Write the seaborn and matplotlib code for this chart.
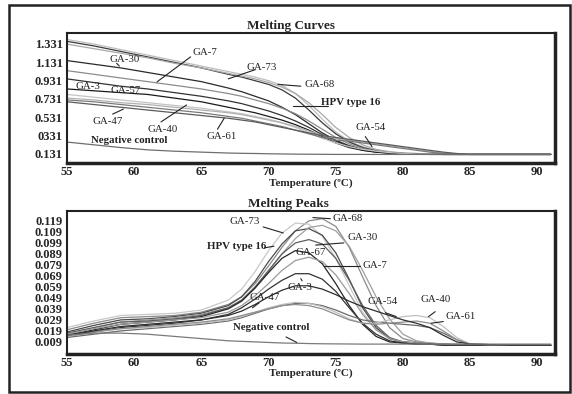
import numpy as np
import pandas as pd
import matplotlib
matplotlib.use("Agg")
import matplotlib.pyplot as plt
import seaborn as sns
from matplotlib.patches import Rectangle

# temperature grid shared by both panels
temps = [55, 57, 59, 61, 63, 65, 67, 68, 69, 70, 71, 72, 73, 74, 75, 76, 77, 78, 79, 80, 81, 82, 83, 84, 85, 88, 91]

# --- Melting curves (fluorescence) ---
curve_m1 = [1.38, 1.33, 1.27, 1.21, 1.15, 1.09, 1.03, 1.00, 0.97, 0.93, 0.88, 0.79, 0.66, 0.51, 0.37, 0.27, 0.21, 0.17, 0.15, 0.14, 0.135, 0.13, 0.13, 0.125, 0.125, 0.125, 0.125]
curve_m2 = [1.36, 1.31, 1.25, 1.19, 1.13, 1.07, 1.00, 0.97, 0.93, 0.89, 0.83, 0.74, 0.61, 0.47, 0.35, 0.26, 0.20, 0.165, 0.145, 0.135, 0.13, 0.13, 0.125, 0.125, 0.125, 0.125, 0.125]
curve_m3 = [1.33, 1.28, 1.23, 1.18, 1.12, 1.07, 1.01, 0.98, 0.95, 0.91, 0.86, 0.79, 0.69, 0.56, 0.42, 0.31, 0.23, 0.18, 0.155, 0.14, 0.135, 0.13, 0.13, 0.125, 0.125, 0.125, 0.125]
curve_m4 = [1.15, 1.11, 1.07, 1.02, 0.97, 0.92, 0.85, 0.81, 0.76, 0.71, 0.64, 0.56, 0.46, 0.36, 0.28, 0.22, 0.18, 0.155, 0.14, 0.135, 0.13, 0.13, 0.125, 0.125, 0.125, 0.125, 0.125]
curve_m5 = [1.04, 1.00, 0.96, 0.92, 0.88, 0.84, 0.79, 0.76, 0.72, 0.68, 0.63, 0.57, 0.49, 0.40, 0.31, 0.24, 0.19, 0.16, 0.145, 0.135, 0.13, 0.13, 0.125, 0.125, 0.125, 0.125, 0.125]
curve_m6 = [0.95, 0.91, 0.87, 0.84, 0.80, 0.76, 0.71, 0.68, 0.64, 0.60, 0.55, 0.49, 0.42, 0.34, 0.27, 0.21, 0.17, 0.15, 0.14, 0.13, 0.13, 0.125, 0.125, 0.125, 0.125, 0.125, 0.125]
curve_m7 = [0.84, 0.82, 0.80, 0.78, 0.74, 0.70, 0.64, 0.61, 0.58, 0.54, 0.50, 0.45, 0.39, 0.32, 0.25, 0.20, 0.17, 0.15, 0.14, 0.13, 0.13, 0.125, 0.125, 0.125, 0.125, 0.125, 0.125]
curve_m8 = [0.78, 0.75, 0.72, 0.69, 0.66, 0.63, 0.59, 0.57, 0.54, 0.51, 0.47, 0.42, 0.36, 0.30, 0.25, 0.21, 0.18, 0.16, 0.145, 0.135, 0.13, 0.13, 0.125, 0.125, 0.125, 0.125, 0.125]
curve_m9 = [0.74, 0.72, 0.69, 0.67, 0.64, 0.61, 0.58, 0.56, 0.53, 0.50, 0.47, 0.43, 0.38, 0.33, 0.30, 0.28, 0.26, 0.24, 0.22, 0.20, 0.18, 0.16, 0.14, 0.13, 0.125, 0.125, 0.125]
curve_m10 = [0.72, 0.70, 0.67, 0.64, 0.61, 0.58, 0.54, 0.52, 0.49, 0.46, 0.43, 0.39, 0.35, 0.31, 0.28, 0.27, 0.25, 0.23, 0.21, 0.19, 0.17, 0.15, 0.135, 0.13, 0.125, 0.125, 0.125]
curve_m11 = [0.70, 0.67, 0.64, 0.61, 0.58, 0.55, 0.52, 0.50, 0.48, 0.45, 0.42, 0.39, 0.36, 0.33, 0.31, 0.29, 0.27, 0.25, 0.23, 0.21, 0.19, 0.17, 0.15, 0.135, 0.125, 0.125, 0.125]
curve_neg = [0.26, 0.23, 0.20, 0.175, 0.16, 0.15, 0.14, 0.137, 0.135, 0.132, 0.13, 0.128, 0.127, 0.126, 0.125, 0.125, 0.125, 0.125, 0.125, 0.125, 0.125, 0.125, 0.125, 0.125, 0.125, 0.125, 0.125]

# --- Melting peaks (-dF/dT) ---
peak_ga68 = [.020, .026, .031, .032, .033, .036, .043, .050, .062, .078, .095, .110, .119, .121, .114, .095, .068, .042, .022, .012, .009, .008, .007, .007, .006, .006, .006]
peak_ga73 = [.022, .028, .033, .034, .035, .038, .047, .057, .073, .092, .108, .117, .116, .105, .085, .060, .036, .020, .012, .009, .008, .007, .007, .007, .006, .006, .006]
peak_hpv16 = [.018, .024, .029, .030, .032, .035, .042, .050, .064, .082, .098, .110, .112, .106, .090, .066, .040, .022, .012, .009, .008, .007, .007, .006, .006, .006, .006]
peak_late = [.016, .022, .027, .029, .031, .034, .040, .047, .058, .073, .089, .103, .113, .115, .110, .096, .074, .050, .030, .016, .010, .008, .007, .007, .006, .006, .006]
peak_ga30 = [.017, .022, .027, .028, .030, .033, .040, .047, .059, .074, .089, .099, .102, .098, .085, .065, .042, .024, .013, .009, .008, .007, .007, .006, .006, .006, .006]
peak_ga67 = [.015, .020, .025, .027, .029, .032, .039, .046, .058, .072, .085, .092, .090, .080, .062, .042, .025, .014, .009, .008, .007, .007, .006, .006, .006, .006, .006]
peak_ga7 = [.016, .021, .025, .027, .029, .031, .036, .042, .051, .062, .074, .083, .086, .082, .070, .053, .034, .020, .012, .009, .008, .007, .007, .006, .006, .006, .006]
peak_ga3 = [.014, .018, .022, .024, .026, .029, .034, .040, .048, .057, .065, .071, .071, .066, .055, .040, .026, .016, .010, .008, .007, .007, .006, .006, .006, .006, .006]
peak_ga47 = [.013, .016, .019, .021, .023, .025, .028, .031, .035, .039, .042, .044, .044, .042, .038, .033, .029, .027, .026, .025, .024, .022, .017, .011, .007, .006, .006]
peak_ga40 = [.014, .018, .021, .022, .024, .026, .029, .032, .036, .040, .043, .045, .044, .041, .036, .030, .026, .026, .029, .032, .033, .031, .023, .013, .007, .006, .006]
peak_ga61 = [.015, .018, .021, .023, .025, .027, .030, .033, .036, .039, .042, .043, .042, .039, .034, .029, .026, .025, .026, .027, .028, .026, .019, .011, .007, .006, .006]
peak_ga54 = [.015, .019, .023, .025, .027, .029, .033, .037, .043, .050, .056, .060, .060, .057, .052, .046, .041, .037, .033, .029, .026, .022, .015, .009, .007, .006, .006]
peak_neg = [.015, .017, .017, .016, .014, .012, .010, .0095, .009, .0085, .008, .0078, .0075, .0073, .0072, .0071, .007, .007, .007, .007, .007, .007, .007, .007, .007, .007, .007]

curve_names = ["m1", "m2", "m3", "m4", "m5", "m6", "m7", "m8", "m9", "m10", "m11", "neg"]
curve_values = [curve_m1, curve_m2, curve_m3, curve_m4, curve_m5, curve_m6, curve_m7,
                curve_m8, curve_m9, curve_m10, curve_m11, curve_neg]
curve_colors = ["#bdbdbd", "#3a3a3a", "#a8a8a8", "#2a2a2a", "#8c8c8c", "#333333", "#1a1a1a",
                "#c4c4c4", "#b0b0b0", "#7a7a7a", "#5a5a5a", "#6e6e6e"]

peak_names = ["GA-68", "GA-73", "HPV16", "late", "GA-30", "GA-67", "GA-7", "GA-3",
              "GA-47", "GA-40", "GA-61", "GA-54", "neg"]
peak_values = [peak_ga68, peak_ga73, peak_hpv16, peak_late, peak_ga30, peak_ga67, peak_ga7,
               peak_ga3, peak_ga47, peak_ga40, peak_ga61, peak_ga54, peak_neg]
peak_colors = ["#8a8a8a", "#c8c8c8", "#4a4a4a", "#a0a0a0", "#5e5e5e", "#262626", "#9a9a9a",
               "#333333", "#6a6a6a", "#c0c0c0", "#8e8e8e", "#2e2e2e", "#7a7a7a"]

curve_ticks = [0.131, 0.331, 0.531, 0.731, 0.931, 1.131, 1.331]
curve_ticklabels = ["0.131", "0331", "0.531", "0.731", "0.931", "1.131", "1.331"]
peak_ticks = [0.009, 0.019, 0.029, 0.039, 0.049, 0.059, 0.069, 0.079, 0.089, 0.099, 0.109, 0.119]
x_ticks = [55, 60, 65, 70, 75, 80, 85, 90]

sns.set_style("white")
plt.rcParams['font.family'] = ['Liberation Serif', 'DejaVu Serif']


def long_frame(names, values):
    rows = []
    for n, v in zip(names, values):
        for t, y in zip(temps, v):
            rows.append({"temp": t, "value": y, "sample": n})
    return pd.DataFrame(rows)


def style_axes(ax, yticks, ylabels):
    ax.set_xlim(55, 91.3)
    ax.set_xticks(x_ticks)
    ax.set_xticklabels([str(t) for t in x_ticks], fontweight='bold', fontsize=9)
    ax.set_yticks(yticks)
    ax.set_yticklabels(ylabels, fontweight='bold', fontsize=9)
    ax.tick_params(length=0, pad=3)
    ax.tick_params(axis='x', pad=2)
    ax.set_xlabel("Temperature (ºC)", fontweight='bold', fontsize=8, labelpad=0)
    ax.set_ylabel("")
    for side in ["left", "top"]:
        ax.spines[side].set_linewidth(1.5)
        ax.spines[side].set_color("#222222")
    for side in ["right", "bottom"]:
        ax.spines[side].set_linewidth(2.5)
        ax.spines[side].set_color("#222222")


fig = plt.figure(figsize=(5.72, 3.94), dpi=100)
ax1 = fig.add_axes([0.117, 0.586, 0.853, 0.330])
ax2 = fig.add_axes([0.117, 0.1015, 0.853, 0.363])

df_c = long_frame(curve_names, curve_values)
sns.lineplot(data=df_c, x="temp", y="value", hue="sample",
             palette=dict(zip(curve_names, curve_colors)), legend=False,
             estimator=None, linewidth=0.9, ax=ax1)
ax1.set_ylim(0.03, 1.45)
style_axes(ax1, curve_ticks, curve_ticklabels)
ax1.set_title("Melting Curves", fontweight='bold', fontsize=9.5, x=0.46, pad=3)

df_p = long_frame(peak_names, peak_values)
sns.lineplot(data=df_p, x="temp", y="value", hue="sample",
             palette=dict(zip(peak_names, peak_colors)), legend=False,
             estimator=None, linewidth=0.9, ax=ax2)
ax2.set_ylim(-0.002, 0.128)
style_axes(ax2, peak_ticks, [f"{t:.3f}" for t in peak_ticks])
ax2.set_title("Melting Peaks", fontweight='bold', fontsize=9.5, x=0.455, pad=3)

# labels with pointer lines: (text, text x, text y, pointer start, pointer end, bold)
curve_labels = [
    ("GA-7", 65.3, 1.233, (64.2, 1.19), (61.7, 0.917), False),
    ("GA-30", 59.3, 1.167, (58.7, 1.12), (58.9, 1.09), False),
    ("GA-73", 69.5, 1.07, (69.0, 1.05), (67.0, 0.95), False),
    ("GA-68", 73.8, 0.884, (72.4, 0.87), (70.7, 0.89), False),
    ("HPV type 16", 76.1, 0.687, (74.4, 0.655), (71.8, 0.655), True),
    ("GA-54", 77.6, 0.415, (77.2, 0.32), (77.7, 0.21), False),
    ("GA-3", 56.6, 0.862, None, None, False),
    ("GA-57", 59.4, 0.818, None, None, False),
    ("GA-47", 58.05, 0.48, (58.4, 0.565), (59.2, 0.62), False),
    ("GA-40", 62.1, 0.393, (62.0, 0.48), (63.9, 0.665), False),
    ("GA-61", 66.5, 0.316, (66.2, 0.40), (66.7, 0.52), False),
    ("Negative control", 59.6, 0.273, None, None, True),
]
peak_labels = [
    ("GA-73", 68.25, 0.118, (69.6, 0.1135), (71.1, 0.108), False),
    ("HPV type 16", 67.6, 0.0954, (69.7, 0.0945), (70.4, 0.096), True),
    ("GA-68", 75.85, 0.121, (73.3, 0.122), (74.6, 0.121), False),
    ("GA-30", 77.0, 0.1035, (73.5, 0.097), (75.6, 0.099), False),
    ("GA-67", 73.1, 0.090, None, None, False),
    ("GA-7", 77.9, 0.078, (74.1, 0.078), (76.8, 0.078), False),
    ("GA-3", 72.3, 0.058, (72.4, 0.0665), (72.5, 0.0645), False),
    ("GA-47", 69.7, 0.049, (69.3, 0.0445), (68.8, 0.040), False),
    ("Negative control", 70.2, 0.0217, (71.3, 0.0135), (72.1, 0.0085), True),
    ("GA-54", 78.5, 0.0454, (78.7, 0.0355), (79.5, 0.032), False),
    ("GA-40", 82.4, 0.048, (82.4, 0.0365), (81.9, 0.032), False),
    ("GA-61", 84.3, 0.0317, (83.0, 0.0275), (82.1, 0.026), False),
]

for ax, labels in [(ax1, curve_labels), (ax2, peak_labels)]:
    for text, tx, ty, p0, p1, bold in labels:
        ax.text(tx, ty, text, ha='center', va='center', fontsize=7.8,
                fontweight='bold' if bold else 'normal', color="#222222", zorder=5)
        if p0 is not None:
            ax.plot([p0[0], p1[0]], [p0[1], p1[1]], color="#222222", lw=0.8, zorder=5)

# outer frame
fig.patches.append(Rectangle((9 / 572, 2 / 394), 561 / 572, 387 / 394, transform=fig.transFigure,
                             fill=False, edgecolor="#222222", linewidth=1.8))

fig.savefig("out.png", dpi=100)
